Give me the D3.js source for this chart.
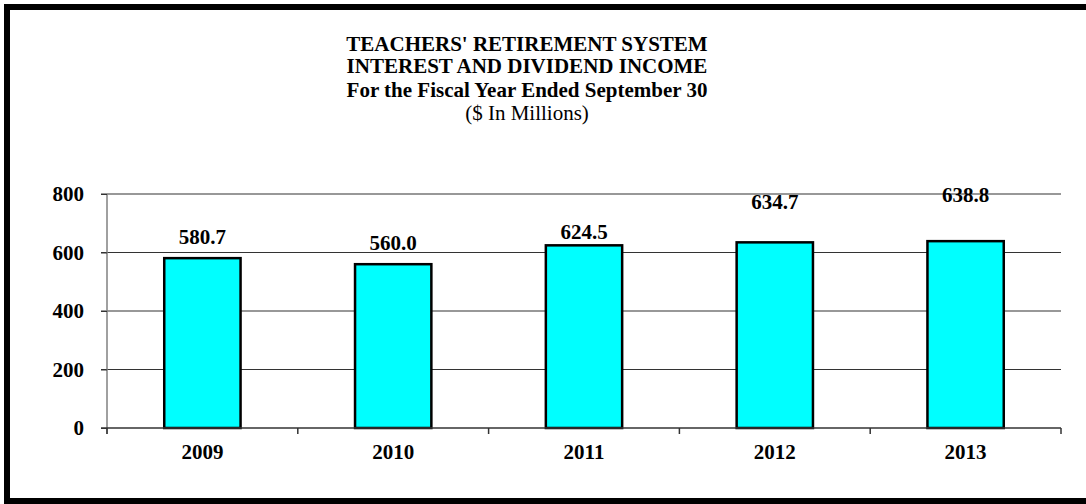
<!DOCTYPE html>
<html><head><meta charset="utf-8">
<script src="https://cdn.jsdelivr.net/npm/d3@7"></script>
<style>html,body{margin:0;padding:0;background:#fff;overflow:hidden}svg{display:block}
svg text{font-family:"Liberation Serif","Times New Roman",Tinos,"DejaVu Serif",serif;}</style>
</head><body>
<svg id="c" width="1086" height="504"></svg>
<script>
const years = ["2009","2010","2011","2012","2013"];
const income = [580.7, 560.0, 624.5, 634.7, 638.8];
const yTicks = [0, 200, 400, 600, 800];
const titleLines = ["TEACHERS' RETIREMENT SYSTEM","INTEREST AND DIVIDEND INCOME","For the Fiscal Year Ended September 30"];
const subTitle = "($ In Millions)";
// label lift above bar top (px), as placed in the original
const labelLift = [21, 22, 14, 41, 47];

const svg = d3.select("#c");
const m = {left:107, right:1061, top:194, bottom:428};

// frame
svg.append("rect").attr("x",7).attr("y",7).attr("width",1100).attr("height",494)
  .attr("fill","#fff").attr("stroke","#000").attr("stroke-width",6);

const x = d3.scaleBand().domain(years).range([m.left, m.right]).paddingInner(0.6).paddingOuter(0.3);
const xb = d3.scaleBand().domain(years).range([m.left, m.right]);
const y = d3.scaleLinear().domain([0,800]).range([m.bottom, m.top]);

// gridlines
svg.append("g").selectAll("line").data(yTicks.filter(d=>d>0)).join("line")
  .attr("x1", m.left-6).attr("x2", m.right).attr("y1", d=>y(d)).attr("y2", d=>y(d))
  .attr("stroke","#333").attr("stroke-width",1.2);

// y axis
const ya = d3.axisLeft(y).tickValues(yTicks).tickSize(6).tickPadding(17).tickFormat(d3.format("d"));
const gy = svg.append("g").attr("transform",`translate(${m.left},0)`).call(ya);
gy.attr("font-family",null);
gy.select(".domain").attr("stroke","#808080").attr("stroke-width",1.5).attr("d",`M0,${m.top}V${m.bottom+6}`);
gy.selectAll(".tick line").attr("stroke","#333");
gy.selectAll("text").attr("font-size",21).attr("font-weight","bold").attr("fill","#000");

// bars
svg.append("g").selectAll("rect").data(income).join("rect")
  .attr("x",(d,i)=>x(years[i])).attr("width",x.bandwidth())
  .attr("y",d=>y(d)).attr("height",d=>y(0)-y(d))
  .attr("fill","#00FFFF").attr("stroke","#000").attr("stroke-width",2.5);

// x axis
const xa = d3.axisBottom(xb).tickSize(0).tickPadding(16);
const gx = svg.append("g").attr("transform",`translate(0,${m.bottom})`).call(xa);
gx.attr("font-family",null);
gx.select(".domain").attr("stroke","#333").attr("stroke-width",1.5).attr("d",`M${m.left-6},0H${m.right}`);
gx.selectAll("text").attr("font-size",21).attr("font-weight","bold").attr("fill","#000");
// category boundary ticks
const bounds = years.map(d=>xb(d)).concat([m.right]);
svg.append("g").selectAll("line").data(bounds).join("line")
  .attr("x1",d=>d).attr("x2",d=>d).attr("y1",m.bottom).attr("y2",m.bottom+6)
  .attr("stroke","#333").attr("stroke-width",1.5);

// value labels
svg.append("g").selectAll("text").data(income).join("text")
  .attr("x",(d,i)=>x(years[i])+x.bandwidth()/2)
  .attr("y",(d,i)=>y(d)-labelLift[i])
  .attr("dy","0.35em")
  .attr("text-anchor","middle").attr("font-size",21).attr("font-weight","bold")
  .text(d=>d3.format(".1f")(d));

// titles
const tx = 527;
const titleBase = [51, 73, 97];
svg.append("g").selectAll("text").data(titleLines).join("text")
  .attr("x",tx).attr("y",(d,i)=>titleBase[i])
  .attr("text-anchor","middle").attr("font-size",21).attr("font-weight","bold")
  .text(d=>d);
svg.append("text").attr("x",tx).attr("y",120).attr("text-anchor","middle")
  .attr("font-size",21).text(subTitle);
</script>
</body></html>
